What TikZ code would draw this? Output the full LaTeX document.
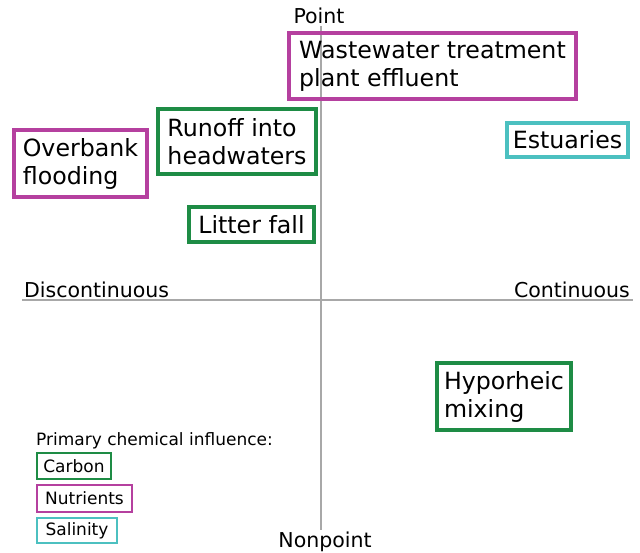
\documentclass[tikz,border=0pt]{standalone}
\usepackage{fontspec}
\setmainfont{DejaVu Sans}
\definecolor{carbon}{HTML}{1E8C45}
\definecolor{nutr}{HTML}{B5409F}
\definecolor{salt}{HTML}{4CC0C0}
\definecolor{axisgray}{HTML}{A8A8A8}
\begin{document}
\begin{tikzpicture}[x=1pt,y=-1pt,
  bigbox/.style={draw, line width=3.2pt, align=left, inner sep=0pt,
    font=\fontsize{23.7}{28}\selectfont},
  legbox/.style={draw, line width=2.8pt, inner sep=0pt,
    font=\fontsize{17}{20}\selectfont},
  axlabel/.style={inner sep=0pt, font=\fontsize{20.5}{24}\selectfont},
  axisline/.style={draw=axisgray, line width=2.5pt}]
\useasboundingbox (0,0) rectangle (640,552);
% axes
\coordinate (vtop) at (321,26);
\coordinate (vbot) at (321,530);
\coordinate (hleft) at (22,300);
\coordinate (hright) at (633,300);
\draw[axisline] (vtop) -- (vbot);
\draw[axisline] (hleft) -- (hright);
% axis labels
\node[axlabel, anchor=base] (point) at (319,23) {Point};
\node[axlabel, anchor=base] (nonpoint) at (325,547) {Nonpoint};
\node[axlabel, anchor=base west] (disc) at (24,297) {Discontinuous};
\node[axlabel, anchor=base east] (cont) at (630,297) {Continuous};
% boxes
\node[bigbox, draw=nutr, minimum width=287pt, minimum height=66pt] (wwtp) at (432.5,66) {Wastewater treatment\\plant effluent};
\node[bigbox, draw=nutr, minimum width=133pt, minimum height=67pt] (overbank) at (80.5,163.5) {Overbank\\flooding};
\node[bigbox, draw=carbon, minimum width=158pt, minimum height=65pt] (runoff) at (237,141.5) {Runoff into\\headwaters};
\node[bigbox, draw=carbon, minimum width=125pt, minimum height=35pt] (litter) at (251.5,224.5) {Litter fall};
\node[bigbox, draw=salt, minimum width=121pt, minimum height=34pt] (estuaries) at (567.5,140) {Estuaries};
\node[bigbox, draw=carbon, minimum width=134pt, minimum height=67pt] (hypo) at (504,396.5) {Hyporheic\\mixing};
% legend
\node[inner sep=0pt, anchor=base west, font=\fontsize{17}{20}\selectfont] (legtitle) at (36,445) {Primary chemical influence:};
\node[legbox, draw=carbon, minimum width=74pt, minimum height=26pt] (lc) at (74,466) {Carbon};
\node[legbox, draw=nutr, minimum width=95pt, minimum height=27pt] (ln) at (84.5,498.5) {Nutrients};
\node[legbox, draw=salt, minimum width=80pt, minimum height=25pt] (ls) at (77,530.5) {Salinity};
\end{tikzpicture}
\end{document}
